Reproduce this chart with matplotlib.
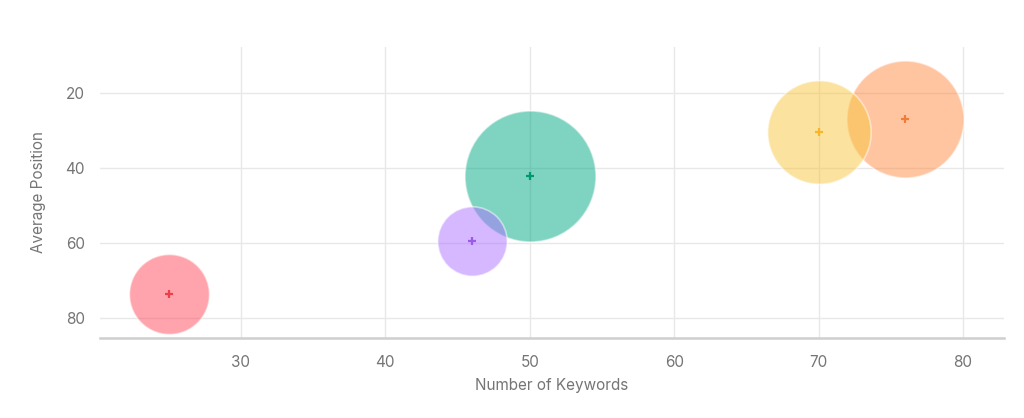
import matplotlib.pyplot as plt

plt.rcParams["font.family"] = ["Inter", "DejaVu Sans"]

keywords = [25, 76, 50, 46, 70]
avg_position = [73.6, 27.0, 42.1, 59.4, 30.3]
bubble_radius = [40, 58.5, 65.5, 34.7, 51.7]  # relative bubble size
fill_colors = ["#FF4A5A", "#FF8A42", "#00A884", "#AC72FF", "#F9C640"]
mark_colors = ["#EE3D4B", "#EE7E3A", "#00996F", "#9A5BEB", "#F6B62C"]

x_ticks = [30, 40, 50, 60, 70, 80]
y_ticks = [20, 40, 60, 80]

DPI = 100
fig = plt.figure(figsize=(10.24, 4.18), dpi=DPI)
ax = fig.add_axes([0.0977, 0.1914, 0.8823, 0.6962])

px_to_pt = 72 / DPI
for x, y, r, fc, mc in zip(keywords, avg_position, bubble_radius, fill_colors, mark_colors):
    size = (2 * r * px_to_pt) ** 2
    ax.scatter(x, y, s=size, color=fc, alpha=0.5, edgecolors="white", linewidths=1.2, zorder=3)
    ax.scatter(x, y, s=40, marker="+", color=mc, linewidths=1.6, zorder=4)

ax.set_xlim(20.25, 82.8)
ax.set_ylim(85.25, 7.7)
ax.set_xticks(x_ticks)
ax.set_yticks(y_ticks)
ax.grid(True, color="#e8e8e8", linewidth=1, zorder=0)
ax.set_axisbelow(True)

for side in ["top", "right", "left"]:
    ax.spines[side].set_visible(False)
ax.spines["bottom"].set_color("#cfcfcf")
ax.spines["bottom"].set_linewidth(1.8)

ax.tick_params(length=0, labelsize=11, colors="#757575", pad=12)
ax.tick_params(axis="y", pad=11)
ax.set_xlabel("Number of Keywords", fontsize=11, color="#757575", labelpad=6)
ax.set_ylabel("Average Position", fontsize=11, color="#757575", labelpad=14)

fig.savefig("out.png", dpi=DPI)
